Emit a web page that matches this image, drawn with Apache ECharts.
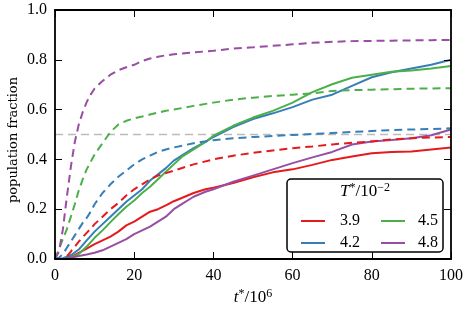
<!DOCTYPE html>
<html>
<head>
<meta charset="utf-8">
<script src="https://cdn.jsdelivr.net/npm/echarts@6/dist/echarts.min.js"></script>
<style>html,body{margin:0;padding:0;background:#fff}#c{width:466px;height:311px}</style>
</head>
<body>
<div id="c"></div>
<script>
// ---- data ----
const xTicks = [0, 20, 40, 60, 80, 100];
const yTicks = [0.0, 0.2, 0.4, 0.6, 0.8, 1.0];
const legendLabels = ['3.9', '4.2', '4.5', '4.8'];
const tSolid = [0,2,4,6,8,10,12,14,16,18,20,22,24,26,28,30,32,35,38,40,45,50,55,60,65,70,75,80,85,90,95,100];
const red39Solid = [0,0,0.008,0.025,0.042,0.06,0.075,0.09,0.11,0.135,0.15,0.17,0.19,0.2,0.215,0.232,0.245,0.265,0.28,0.286,0.305,0.328,0.348,0.36,0.378,0.398,0.412,0.425,0.43,0.432,0.44,0.448];
const blue42Solid = [0,0.003,0.015,0.038,0.075,0.11,0.14,0.17,0.2,0.23,0.255,0.28,0.315,0.34,0.365,0.395,0.415,0.445,0.47,0.49,0.53,0.562,0.585,0.61,0.64,0.66,0.695,0.73,0.75,0.765,0.78,0.8];
const green45Solid = [0,0,0.005,0.02,0.05,0.085,0.115,0.148,0.18,0.21,0.235,0.265,0.29,0.32,0.35,0.38,0.41,0.44,0.47,0.495,0.535,0.568,0.595,0.628,0.67,0.702,0.728,0.74,0.752,0.757,0.765,0.775];
const purple48Solid = [0,0,0.005,0.012,0.018,0.025,0.035,0.05,0.065,0.08,0.1,0.115,0.13,0.15,0.17,0.2,0.22,0.25,0.27,0.28,0.31,0.335,0.36,0.385,0.408,0.43,0.46,0.472,0.478,0.485,0.497,0.52];
const tDashed = [0,1,2,3,4,5,6,7,8,9,10,12,14,16,18,20,22,24,26,28,30,35,40,45,50,55,60,65,70,75,80,85,90,95,100];
const red39Dashed = [0,0,0,0.01,0.03,0.05,0.07,0.088,0.105,0.122,0.14,0.17,0.2,0.225,0.255,0.28,0.3,0.32,0.335,0.345,0.355,0.38,0.4,0.415,0.426,0.436,0.445,0.452,0.46,0.467,0.472,0.48,0.485,0.488,0.49];
const blue42Dashed = [0,0.005,0.02,0.045,0.07,0.095,0.12,0.145,0.165,0.19,0.22,0.265,0.3,0.33,0.355,0.38,0.4,0.415,0.43,0.44,0.448,0.465,0.477,0.485,0.49,0.494,0.498,0.502,0.506,0.51,0.514,0.518,0.52,0.522,0.525];
const green45Dashed = [0,0.04,0.08,0.12,0.17,0.22,0.275,0.32,0.36,0.39,0.42,0.465,0.51,0.54,0.555,0.565,0.572,0.58,0.588,0.595,0.6,0.615,0.628,0.64,0.648,0.655,0.66,0.665,0.675,0.678,0.68,0.682,0.684,0.685,0.686];
const purple48Dashed = [0,0.03,0.12,0.25,0.37,0.47,0.54,0.59,0.63,0.66,0.685,0.715,0.74,0.758,0.77,0.78,0.795,0.805,0.812,0.818,0.822,0.83,0.836,0.845,0.85,0.856,0.862,0.868,0.872,0.875,0.876,0.877,0.878,0.879,0.88];
const refLineX = [0, 100];
const refLineY = [0.5, 0.5];

// ---- chart ----
const FONT = '"Liberation Serif", "DejaVu Serif", serif';
const WFONT = '"DejaVu Serif", serif';
const colors = { '3.9': '#e41a1c', '4.2': '#377eb8', '4.5': '#4daf4a', '4.8': '#984ea3' };
const zip = (xs, ys) => xs.map((x, i) => [x, ys[i]]);

const chart = echarts.init(document.getElementById('c'), null, { renderer: 'canvas' });

function lineSeries(name, xs, ys, color, dashed) {
  return {
    name, type: 'line', data: zip(xs, ys), showSymbol: false, symbol: 'none',
    xAxisIndex: 0, yAxisIndex: 0, animation: false, silent: true, z: 1,
    lineStyle: { color, width: 2, type: dashed ? [8, 5] : 'solid' },
    itemStyle: { color }
  };
}

const axisCommon = {
  type: 'value', min: 0, splitLine: { show: false }, z: 8,
  axisLine: { show: true, onZero: false, lineStyle: { color: '#000', width: 1.8 } },
  axisTick: { show: true, inside: true, length: 7, lineStyle: { color: '#000', width: 1 } }
};

const legendCommon = {
  orient: 'vertical', top: 207, icon: 'rect', itemWidth: 24, itemHeight: 2, itemGap: 4, z: 10,
  selectedMode: false
};

const option = {
  animation: false,
  backgroundColor: '#fff',
  grid: { left: 55, right: 15, top: 10, bottom: 52, containLabel: false },
  xAxis: [
    Object.assign({}, axisCommon, {
      max: 100, interval: 20, position: 'bottom',
      axisLabel: { color: '#000', fontFamily: FONT, fontSize: 16, margin: 9,
        formatter: v => xTicks.includes(v) ? String(v) : '' }
    }),
    Object.assign({}, axisCommon, {
      max: 100, interval: 20, position: 'top', axisLabel: { show: false }
    })
  ],
  yAxis: [
    Object.assign({}, axisCommon, {
      max: 1, interval: 0.2, position: 'left',
      axisLabel: { color: '#000', fontFamily: FONT, fontSize: 16, margin: 8,
        formatter: v => { const t = yTicks.find(y => Math.abs(y - v) < 1e-9); return t === undefined ? '' : t.toFixed(1); } }
    }),
    Object.assign({}, axisCommon, {
      max: 1, interval: 0.2, position: 'right', axisLabel: { show: false }
    })
  ],
  legend: [
    Object.assign({}, legendCommon, {
      data: [legendLabels[0], legendLabels[1]], left: 296,
      textStyle: { fontFamily: FONT, fontSize: 16, color: '#000', lineHeight: 18, padding: [0, 0, 0, 10] }
    }),
    Object.assign({}, legendCommon, {
      data: [legendLabels[2], legendLabels[3]], left: 376,
      textStyle: { fontFamily: FONT, fontSize: 16, color: '#000', lineHeight: 18, padding: [0, 0, 0, 8] }
    })
  ],
  graphic: [
    { type: 'rect', z: 3, shape: { x: 287, y: 179, width: 156, height: 73, r: 4 },
      style: { fill: '#fff', stroke: '#000', lineWidth: 1.5 } },
    { type: 'text', z: 6, x: 365, y: 192,
      style: {
        text: '{i|T}{s|*}{n|/10}{s|−2}', align: 'center', verticalAlign: 'middle',
        rich: {
          i: { fontFamily: FONT, fontStyle: 'italic', fontSize: 17, fill: '#000' },
          n: { fontFamily: FONT, fontSize: 17, fill: '#000' },
          s: { fontFamily: FONT, fontSize: 12, fill: '#000', padding: [0, 0, 8, 0] }
        }
      } },
    { type: 'text', z: 6, x: 253, y: 298,
      style: {
        text: '{i|t}{s|*}{n|/10}{s|6}', align: 'center', verticalAlign: 'middle',
        rich: {
          i: { fontFamily: FONT, fontStyle: 'italic', fontSize: 17, fill: '#000' },
          n: { fontFamily: FONT, fontSize: 17, fill: '#000' },
          s: { fontFamily: FONT, fontSize: 12, fill: '#000', padding: [0, 0, 8, 0] }
        }
      } },
    { type: 'text', z: 6, x: 14, y: 140, rotation: Math.PI / 2,
      style: { text: 'population fraction', align: 'center', verticalAlign: 'middle',
        fontFamily: WFONT, fontSize: 13, fill: '#000' } }
  ],
  series: [
    {
      name: 'ref', type: 'line', data: zip(refLineX, refLineY), showSymbol: false, symbol: 'none',
      lineStyle: { color: '#bbbbbb', width: 1.5, type: [8, 5] }, silent: true, z: 0
    },
    lineSeries('3.9', tSolid, red39Solid, colors['3.9'], false),
    lineSeries('4.2', tSolid, blue42Solid, colors['4.2'], false),
    lineSeries('4.5', tSolid, green45Solid, colors['4.5'], false),
    lineSeries('4.8', tSolid, purple48Solid, colors['4.8'], false),
    lineSeries('3.9 d', tDashed, red39Dashed, colors['3.9'], true),
    lineSeries('4.2 d', tDashed, blue42Dashed, colors['4.2'], true),
    lineSeries('4.5 d', tDashed, green45Dashed, colors['4.5'], true),
    lineSeries('4.8 d', tDashed, purple48Dashed, colors['4.8'], true)
  ]
};
chart.setOption(option);
</script>
</body>
</html>
